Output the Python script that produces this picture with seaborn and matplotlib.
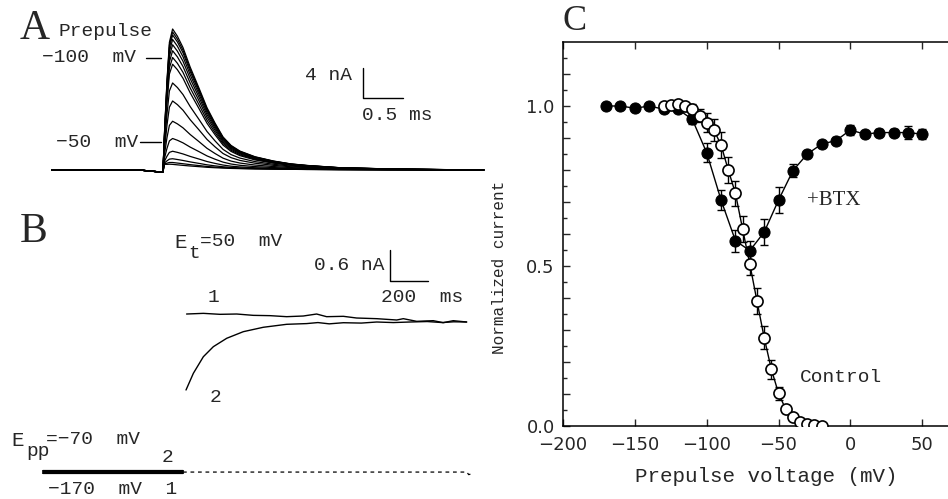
import matplotlib
matplotlib.use('Agg')  # Use non-interactive backend
import matplotlib.pyplot as plt
import pandas as pd
import seaborn as sns

W, H = 948, 499

# Panel A: largest trace, normalized, time in ms from the test-pulse step
a_time = [-1.39, -0.3, -0.05, -0.001, 0.02, 0.05, 0.08, 0.12, 0.18, 0.25, 0.34,
          0.45, 0.55, 0.65, 0.75, 0.85, 0.96, 1.15, 1.38, 1.6, 1.8, 2.2, 2.8,
          3.4, 4.01]
a_shape = [0, 0, 0, 0, 0.25, 0.62, 0.9, 1.0, 0.95, 0.87, 0.73, 0.58, 0.44,
           0.33, 0.23, 0.17, 0.13, 0.09, 0.06, 0.04, 0.03, 0.015, 0.007, 0.003, 0.0]
a_offset = [0, 0, -0.25, -0.25, 0.7, 0.6, 0.55, 0.5, 0.45, 0.4, 0.35, 0.3,
            0.25, 0.22, 0.2, 0.17, 0.15, 0.12, 0.1, 0.08, 0.06, 0.04, 0.02, 0.01, 0.0]
a_peaks = [18.3, 17.9, 17.5, 16.9, 16.2, 15.4, 14.5, 13.6, 11.1, 8.7, 6.0,
           3.7, 2.0, 1.0, 0.5, 0.25]  # nA

# Panel B: test-pulse currents (ms, nA)
b1_time = [3, 92, 180, 269, 357, 446, 534, 622, 693, 746, 835, 905, 1012,
           1118, 1153, 1224, 1312, 1365, 1418, 1489]
b1_curr = [0.117, 0.13, 0.111, 0.117, 0.091, 0.085, 0.065, 0.078, 0.117, 0.065,
           0.072, 0.039, 0.026, 0.0, 0.026, -0.026, -0.013, -0.052, -0.013, -0.039]
b2_time = [0, 39, 92, 145, 216, 304, 410, 534, 640, 700, 760, 835, 930, 1012,
           1100, 1188, 1280, 1360, 1420, 1489]
b2_curr = [-1.367, -1.041, -0.717, -0.521, -0.357, -0.228, -0.142, -0.084, -0.07,
           -0.05, -0.075, -0.053, -0.06, -0.039, -0.05, -0.039, -0.03, -0.05,
           -0.035, -0.039]
pp_time = [-760, -16]
pp_dash_time = [-16, 1490, 1500, 1520]
pp_dash_curr = [-2.97, -2.97, -3.02, -3.0]
pp_levels = [-2.95, -2.99]

# Panel C: inactivation curves
v_btx = [-170, -160, -150, -140, -130, -120, -110, -100, -90, -80, -70, -60,
         -50, -40, -30, -20, -10, 0, 10, 20, 30, 40, 50]
i_btx = [1.0, 1.0, 0.993, 1.0, 0.99, 0.99, 0.958, 0.854, 0.706, 0.579, 0.548,
         0.606, 0.706, 0.798, 0.85, 0.881, 0.892, 0.925, 0.912, 0.917, 0.917,
         0.917, 0.912]
e_btx = [0.005, 0.005, 0.005, 0.005, 0.008, 0.01, 0.015, 0.03, 0.03, 0.035,
         0.03, 0.04, 0.04, 0.02, 0.01, 0.01, 0.01, 0.015, 0.01, 0.01, 0.012,
         0.02, 0.015]
v_ctrl = [-130, -125, -120, -115, -110, -105, -100, -95, -90, -85, -80, -75,
          -70, -65, -60, -55, -50, -45, -40, -35, -30, -25, -20]
i_ctrl = [1.0, 1.003, 1.006, 1.0, 0.99, 0.97, 0.948, 0.925, 0.878, 0.80, 0.727,
          0.615, 0.506, 0.39, 0.276, 0.177, 0.102, 0.052, 0.029, 0.012, 0.006,
          0.003, 0.0]
e_ctrl = [0.005, 0.01, 0.01, 0.01, 0.015, 0.02, 0.03, 0.035, 0.04, 0.04, 0.04,
          0.04, 0.035, 0.04, 0.035, 0.03, 0.02, 0.01, 0.01, 0.005, 0.005, 0.005, 0.005]

sns.set_theme(style="ticks")
plt.rcParams['font.family'] = ['Liberation Mono', 'DejaVu Sans']

fig = plt.figure(figsize=(W / 100, H / 100), dpi=100)


def box(x0, y0, x1, y1):
    return [x0 / W, 1 - y1 / H, (x1 - x0) / W, (y1 - y0) / H]


def ftext(x, y, s, **kw):
    kw.setdefault('fontsize', 14)
    kw.setdefault('ha', 'left')
    kw.setdefault('va', 'center')
    return fig.text(x / W, 1 - y / H, s, **kw)


def hline(x0, x1, y):
    fig.add_artist(plt.Line2D([x0 / W, x1 / W], [1 - y / H, 1 - y / H],
                              color='black', lw=1))


serif = ['Liberation Serif', 'DejaVu Serif']
sans = ['DejaVu Sans']

# ---------------- Panel A ----------------
axA = fig.add_axes(box(40, 10, 490, 185))
rows = []
for k, amp in enumerate(a_peaks):
    for t, s, o in zip(a_time, a_shape, a_offset):
        rows.append((k, t, amp * s + o))
dfA = pd.DataFrame(rows, columns=['trace', 't', 'I'])
sns.lineplot(data=dfA, x='t', y='I', units='trace', estimator=None,
             color='black', lw=0.9, ax=axA, legend=False)
axA.set_xlim(-1.5375, 4.0875)
axA.set_ylim(-2.0, 21.33)
axA.axis('off')
# scale bar: 4 nA, 0.5 ms
axA.plot([2.5, 2.5, 3.0], [13.6, 9.6, 9.6], color='black', lw=1.0)

ftext(20, 29, 'A', family=serif, fontsize=30)
ftext(58, 32, 'Prepulse')
ftext(42, 58, '\u2212100  mV')
ftext(56, 142, '\u221250  mV')
hline(146, 161, 58)
hline(140, 161, 142)
ftext(305, 75, '4 nA')
ftext(362, 115, '0.5 ms')

# ---------------- Panel B ----------------
axB = fig.add_axes(box(0, 230, 490, 499))
sns.lineplot(x=b1_time, y=b1_curr, color='black', lw=1.0, ax=axB)
sns.lineplot(x=b2_time, y=b2_curr, color='black', lw=1.0, ax=axB)
for lev in pp_levels:
    axB.plot(pp_time, [lev, lev], color='black', lw=1.6)
axB.plot(pp_dash_time, pp_dash_curr, color='black', lw=0.9, ls=(0, (3, 3)))
axB.plot([1082, 1082, 1282], [1.362, 0.762, 0.762], color='black', lw=1.0)
axB.set_xlim(-987, 1613)
axB.set_ylim(-3.496, 1.758)
axB.axis('off')

ftext(20, 232, 'B', family=serif, fontsize=30)
ftext(174, 242, 'E', fontsize=15)
ftext(188, 253, 't')
ftext(200, 242, '=50  mV')
ftext(314, 265, '0.6 nA')
ftext(381, 297, '200  ms')
ftext(208, 297, '1')
ftext(210, 398, '2')
ftext(11, 441, 'E', fontsize=15)
ftext(26, 452, 'pp')
ftext(46, 440, '=\u221270  mV')
ftext(162, 457, '2')
ftext(48, 490, '\u2212170  mV  1')

# ---------------- Panel C ----------------
axC = fig.add_axes(box(563, 42, 951, 426))
axC.errorbar(v_btx, i_btx, yerr=e_btx, fmt='none', ecolor='black',
             elinewidth=1, capsize=3, zorder=2)
axC.errorbar(v_ctrl, i_ctrl, yerr=e_ctrl, fmt='none', ecolor='black',
             elinewidth=1, capsize=3, zorder=2)
sns.lineplot(x=v_btx, y=i_btx, color='black', lw=1, marker='o', markersize=8,
             markerfacecolor='black', markeredgecolor='black', ax=axC, zorder=3)
sns.lineplot(x=v_ctrl, y=i_ctrl, color='black', lw=1, marker='o', markersize=8,
             markerfacecolor='white', markeredgecolor='black', markeredgewidth=1.2,
             ax=axC, zorder=4)
axC.set_xlim(-200, 70)
axC.set_ylim(0, 1.2)
axC.set_xticks([-200, -150, -100, -50, 0, 50])
axC.set_xticklabels(['\u2212200', '\u2212150', '\u2212100', '\u221250', '0', '50'],
                    family=sans, fontsize=13)
axC.set_yticks([i / 10 for i in range(12)])
axC.set_yticks([i / 20 for i in range(24)], minor=True)
axC.set_yticklabels(['0.0' if i == 0 else '0.5' if i == 5 else '1.0' if i == 10 else ''
                     for i in range(12)], family=sans, fontsize=13)
axC.tick_params(axis='x', direction='in', top=True, length=5, width=1, pad=7)
axC.tick_params(axis='y', which='major', direction='in', length=5, width=1, pad=6)
axC.tick_params(axis='y', which='minor', direction='in', length=3, width=1)
for sp in axC.spines.values():
    sp.set_linewidth(1.1)
    sp.set_color('black')
axC.set_xlabel('Prepulse voltage (mV)', fontsize=15)
axC.xaxis.set_label_coords((766 - 563) / 388, -(477 - 426) / 384)
axC.xaxis.label.set_va('center')
axC.set_ylabel('Normalized current', fontsize=11.5)
axC.yaxis.set_label_coords(-(563 - 499) / 388, 1 - (267 - 42) / 384)
axC.yaxis.label.set_va('center')
axC.text(-30, 0.706, '+BTX', family=serif, fontsize=15, va='center')
axC.text(-35, 0.15, 'Control', fontsize=14, va='center')

ftext(562, 22, 'C', family=serif, fontsize=26)

fig.savefig('out.png', dpi=100)
plt.close(fig)
